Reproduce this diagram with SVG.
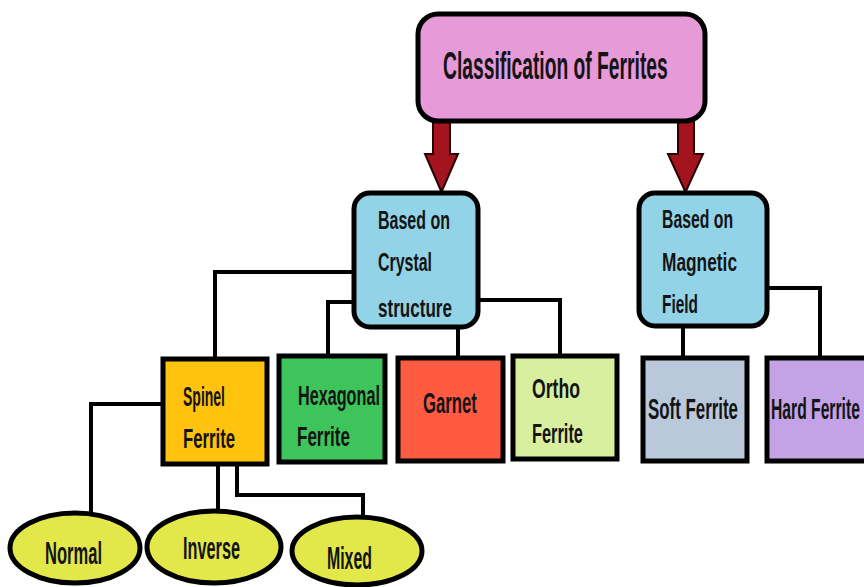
<svg xmlns="http://www.w3.org/2000/svg" width="864" height="587" viewBox="0 0 864 587">
<style>
.t{font-family:"Liberation Sans",Arial,sans-serif;font-weight:bold;fill:#141414;font-size:26px}
.s28{font-size:28px}
.s30{font-size:30px}
.s31{font-size:31px}
.box{stroke:#000;stroke-width:5}
.ln{fill:none;stroke:#000;stroke-width:4;stroke-linejoin:miter}
.arr{fill:#a3141e;stroke:#2a0000;stroke-width:2}
</style>
<rect width="864" height="587" fill="#fff"/>
<g id="connectors">
<path class="arr" d="M433,120 L450,120 L450,154 L458,154 L441.5,192 L425,154 L433,154 Z"/>
<path class="arr" d="M678,120 L694,120 L694,154 L703,154 L685.5,192 L668,154 L678,154 Z"/>
<path class="ln" d="M353,272 L215,272 L215,358"/>
<path class="ln" d="M353,302 L328,302 L328,356"/>
<path class="ln" d="M458,328 L458,357"/>
<path class="ln" d="M478,300 L560,300 L560,355"/>
<path class="ln" d="M683,327 L683,357"/>
<path class="ln" d="M767,288 L820,288 L820,358"/>
<path class="ln" d="M162,404 L91,404 L91,513"/>
<path class="ln" d="M218,465 L218,512"/>
<path class="ln" d="M237,465 L237,495 L363,495 L363,517"/>
</g>
<g id="root">
<rect class="box" x="418" y="14" width="287" height="107" rx="20" fill="#e69ad8"/>
<text class="t" style="font-size:38px" transform="translate(443,79) scale(0.507,1)">Classification of Ferrites</text>
</g>
<g id="crystal">
<rect class="box" x="354" y="193" width="124" height="134" rx="16" fill="#93d3e8"/>
<text class="t" transform="translate(378,229) scale(0.615,1)">Based on</text>
<text class="t" transform="translate(378,271) scale(0.613,1)">Crystal</text>
<text class="t" transform="translate(378,317) scale(0.657,1)">structure</text>
</g>
<g id="magnetic">
<rect class="box" x="639" y="193" width="128" height="133" rx="16" fill="#93d3e8"/>
<text class="t" transform="translate(662,228) scale(0.607,1)">Based on</text>
<text class="t" transform="translate(662,271) scale(0.666,1)">Magnetic</text>
<text class="t" transform="translate(662,313) scale(0.593,1)">Field</text>
</g>
<g id="spinel">
<rect class="box" x="163" y="359" width="104" height="105" fill="#ffc20e"/>
<text class="t s28" transform="translate(183,406) scale(0.5,1)">Spinel</text>
<text class="t s28" transform="translate(183,448) scale(0.597,1)">Ferrite</text>
</g>
<g id="hexagonal">
<rect class="box" x="279" y="356" width="106" height="106" fill="#3dc45b"/>
<text class="t s28" transform="translate(298,405) scale(0.579,1)">Hexagonal</text>
<text class="t s28" transform="translate(297,446) scale(0.608,1)">Ferrite</text>
</g>
<g id="garnet">
<rect class="box" x="398" y="358" width="105" height="103" fill="#ff5a42"/>
<text class="t s30" transform="translate(423,413) scale(0.558,1)">Garnet</text>
</g>
<g id="ortho">
<rect class="box" x="513" y="356" width="104" height="103" fill="#d8efa0"/>
<text class="t s28" transform="translate(532,398) scale(0.63,1)">Ortho</text>
<text class="t s28" transform="translate(532,443) scale(0.585,1)">Ferrite</text>
</g>
<g id="soft">
<rect class="box" x="643" y="358" width="104" height="103" fill="#b9c9db"/>
<text class="t s30" transform="translate(648,419) scale(0.5625,1)">Soft Ferrite</text>
</g>
<g id="hard">
<rect class="box" x="767" y="358" width="110" height="103" fill="#c3a3e5"/>
<text class="t s30" transform="translate(771,419) scale(0.523,1)">Hard Ferrite</text>
</g>
<g id="normal">
<ellipse class="box" cx="75" cy="548" rx="65" ry="35" fill="#e3e84a" stroke-width="4"/>
<text class="t s31" transform="translate(45,564) scale(0.534,1)">Normal</text>
</g>
<g id="inverse">
<ellipse class="box" cx="214" cy="547" rx="67" ry="36" fill="#e3e84a" stroke-width="4"/>
<text class="t s31" transform="translate(183,559) scale(0.525,1)">Inverse</text>
</g>
<g id="mixed">
<ellipse class="box" cx="357" cy="551" rx="65" ry="34" fill="#e3e84a" stroke-width="4"/>
<text class="t s31" transform="translate(327,569) scale(0.512,1)">Mixed</text>
</g>
</svg>
